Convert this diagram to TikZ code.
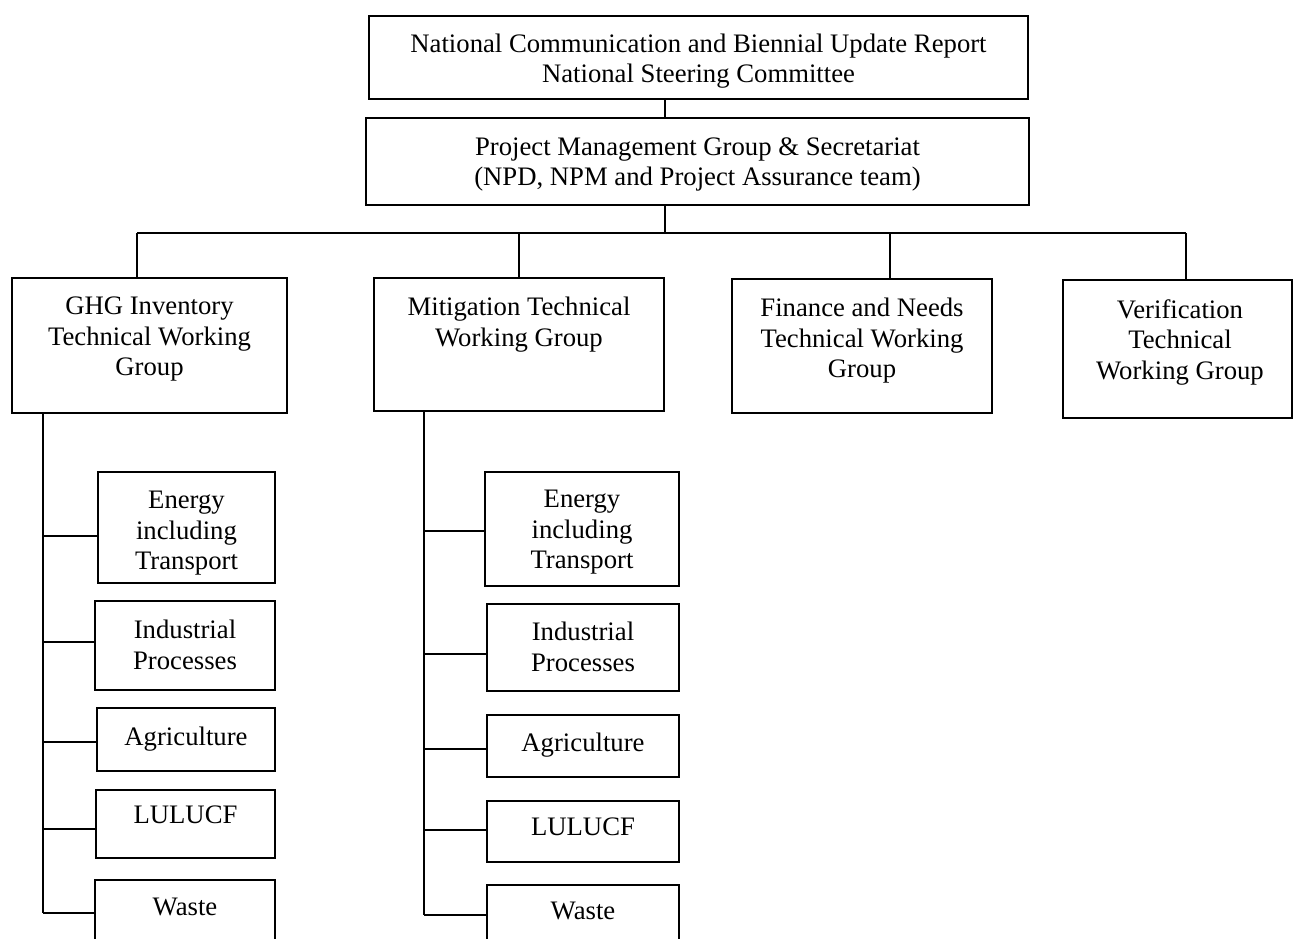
\documentclass[tikz,border=0pt]{standalone}
\usepackage{fontspec}
\setmainfont{Liberation Serif}
\begin{document}
\begin{tikzpicture}[x=1pt,y=-1pt,
  orgbox/.style={draw=black, line width=1.8pt, rectangle, inner sep=0pt, align=center,
    font=\fontsize{26.7}{30.5}\selectfont},
  lbl/.style={inner sep=0pt, align=center, anchor=north, font=\fontsize{26.7}{30.5}\selectfont},
  clbl/.style={inner sep=0pt, align=center, anchor=center, font=\fontsize{26.7}{30.5}\selectfont},
  conn/.style={draw=black, line width=1.6pt}]
\useasboundingbox (0,0) rectangle (1293,938);
\clip (0,0) rectangle (1293,938);
% top boxes
\node[orgbox, minimum width=659pt, minimum height=83pt] (nsc) at (698.5,57.5) {};
\node[clbl] (nsct) at (698.5,61)
  {National Communication and Biennial Update Report\\National Steering Committee};
\node[orgbox, minimum width=663pt, minimum height=87pt] (pmg) at (697.5,161.5) {};
\node[clbl] (pmgt) at (697.5,164.5)
  {Project Management Group \& Secretariat\\(NPD, NPM and Project Assurance team)};
% working groups
\node[orgbox, minimum width=275pt, minimum height=135pt] (ghg) at (149.5,345.5) {};
\node[lbl] (ghgt) at (149.5,297) {GHG Inventory\\Technical Working\\Group};
\node[orgbox, minimum width=290pt, minimum height=133pt] (mit) at (519,344.5) {};
\node[lbl] (mitt) at (519,297) {Mitigation Technical\\Working Group};
\node[orgbox, minimum width=260pt, minimum height=134pt] (fin) at (862,346) {};
\node[lbl] (fint) at (862,298) {Finance and Needs\\Technical Working\\Group};
\node[orgbox, minimum width=229pt, minimum height=138pt] (ver) at (1177.5,349) {};
\node[lbl] (vert) at (1180,299) {Verification\\Technical\\Working Group};
% GHG sub boxes
\node[orgbox, minimum width=177pt, minimum height=111pt] (g1) at (186.5,527.5) {};
\node[lbl] (g1t) at (186.5,491) {Energy\\including\\Transport};
\node[orgbox, minimum width=180pt, minimum height=89pt] (g2) at (185,645.5) {};
\node[lbl] (g2t) at (185,620) {Industrial\\Processes};
\node[orgbox, minimum width=178pt, minimum height=63pt] (g3) at (186,739.5) {};
\node[lbl] (g3t) at (186,727) {Agriculture};
\node[orgbox, minimum width=179pt, minimum height=68pt] (g4) at (185.5,824) {};
\node[lbl] (g4t) at (185.5,806) {LULUCF};
\node[orgbox, minimum width=180pt, minimum height=80pt] (g5) at (185,920) {};
\node[lbl] (g5t) at (185,898) {Waste};
% Mitigation sub boxes
\node[orgbox, minimum width=194pt, minimum height=114pt] (m1) at (582,529) {};
\node[lbl] (m1t) at (582,490) {Energy\\including\\Transport};
\node[orgbox, minimum width=192pt, minimum height=87pt] (m2) at (583,647.5) {};
\node[lbl] (m2t) at (583,622) {Industrial\\Processes};
\node[orgbox, minimum width=192pt, minimum height=62pt] (m3) at (583,746) {};
\node[lbl] (m3t) at (583,733) {Agriculture};
\node[orgbox, minimum width=192pt, minimum height=61pt] (m4) at (583,831.5) {};
\node[lbl] (m4t) at (583,818) {LULUCF};
\node[orgbox, minimum width=192pt, minimum height=80pt] (m5) at (583,925) {};
\node[lbl] (m5t) at (583,902) {Waste};
% connectors top
\coordinate (tx) at (665,0);
\coordinate (bar) at (0,233);
\draw[conn] (nsc.south -| tx) -- (pmg.north -| tx);
\draw[conn] (pmg.south -| tx) -- (bar -| tx);
\coordinate (barL) at (137,233);
\coordinate (barR) at (1186,233);
\draw[conn] (barL) -- (barR);
\draw[conn] (barL) -- (ghg.north -| barL);
\coordinate (mx) at (519,233);
\draw[conn] (mx) -- (mit.north -| mx);
\coordinate (fx) at (890,233);
\draw[conn] (fx) -- (fin.north -| fx);
\draw[conn] (barR) -- (ver.north -| barR);
% GHG spine
\coordinate (gs) at (43,913);
\draw[conn] (ghg.south -| gs) -- (gs);
\coordinate (gb1) at (43,536);
\coordinate (gb2) at (43,642);
\coordinate (gb3) at (43,742);
\coordinate (gb4) at (43,829);
\draw[conn] (gb1) -- (gb1 -| g1.west);
\draw[conn] (gb2) -- (gb2 -| g2.west);
\draw[conn] (gb3) -- (gb3 -| g3.west);
\draw[conn] (gb4) -- (gb4 -| g4.west);
\draw[conn] (gs) -- (gs -| g5.west);
% Mitigation spine
\coordinate (ms) at (424,915);
\draw[conn] (mit.south -| ms) -- (ms);
\coordinate (mb1) at (424,531);
\coordinate (mb2) at (424,654);
\coordinate (mb3) at (424,749);
\coordinate (mb4) at (424,830);
\draw[conn] (mb1) -- (mb1 -| m1.west);
\draw[conn] (mb2) -- (mb2 -| m2.west);
\draw[conn] (mb3) -- (mb3 -| m3.west);
\draw[conn] (mb4) -- (mb4 -| m4.west);
\draw[conn] (ms) -- (ms -| m5.west);
\end{tikzpicture}
\end{document}
